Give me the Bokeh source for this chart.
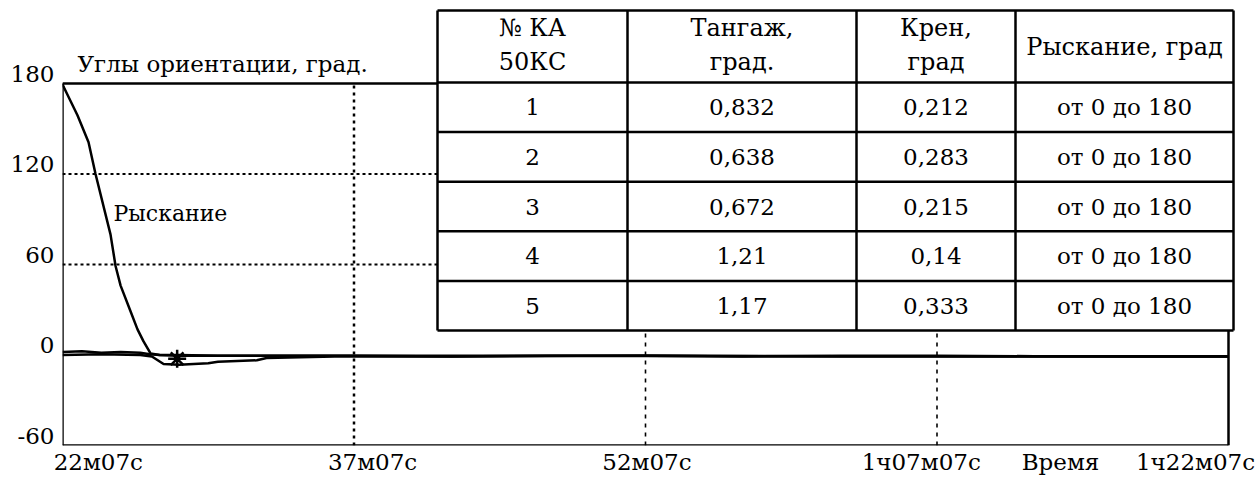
from bokeh.plotting import figure
from bokeh.models import Range1d, LinearAxis, FixedTicker
from bokeh.core.properties import value
from bokeh.embed import file_html
from bokeh.resources import INLINE

FONT = "DejaVu Serif"

# ---------------- data ----------------
# time in minutes from 22m07s
yaw_t = [0, 0.05, 0.77, 1.34, 1.70, 2.47, 2.73, 2.99, 3.50, 3.86, 4.17, 4.53, 5.0, 6.0, 10.0, 20.0, 30.0, 40.0, 50.0, 60.0]
yaw_v = [180, 178, 159, 141, 120, 80, 59, 46, 29, 17, 9, 1, 0, -0.5, -0.5, -0.5, -0.5, -0.8, -0.8, -0.8]

pitch_t = [0, 1, 2, 3, 4, 4.5, 5, 6, 8, 10, 15, 20, 25, 30, 35, 40, 45, 50, 55, 60]
pitch_v = [2, 2.5, 1.5, 2, 1.5, 0.5, 0, 0, -0.5, -0.5, -0.5, -1, -0.5, -0.5, -1, -0.5, -0.5, -0.8, -1, -1]

roll_t = [0, 2, 4, 4.6, 5.2, 6, 7.5, 8.0, 10, 10.5, 14, 20, 30, 40, 50, 60]
roll_v = [0, 0.5, 0, -1, -6, -6.5, -5.5, -4.5, -3.5, -2, -1, -1, -0.5, -1, -1, -1]

marker_t = [5.9]
marker_v = [-2.5]

y_ticks = [-60, 0, 60, 120, 180]
y_tick_labels = ["-60", "0", "60", "120", "180"]
x_ticks = [0, 15, 30, 45, 60]
x_tick_labels = ["22м07с", "37м07с", "52м07с", "1ч07м07с", "1ч22м07с"]
x_axis_name = "Время"

header_line1 = ["№ КА", "Тангаж,", "Крен,", "Рыскание, град"]
header_line2 = ["50КС", "град.", "град", ""]
sat_numbers = ["1", "2", "3", "4", "5"]
pitch_err = ["0,832", "0,638", "0,672", "1,21", "1,17"]
roll_err = ["0,212", "0,283", "0,215", "0,14", "0,333"]
yaw_range = ["от 0 до 180"] * 5

# ---------------- layout (page pixels; Bokeh's page has no margin) ----------------
W, H = 1257, 486
FL, FR, FT, FB = 62, 1236, 8, 445      # frame edges
X0_PX, X60_PX = 62, 1228               # pixel of t=0 and t=60
Y180_PX, YM60_PX = 83, 445             # pixel of 180 and -60
kx = (X60_PX - X0_PX) / 60.0
ky = (YM60_PX - Y180_PX) / 240.0
x_end = (FR - X0_PX) / kx
y_end = -60 + (FB - FT) / ky
LBL_A, LBL_B = 97.8, 18.287            # tick-label centre = LBL_A + LBL_B * t
y_lab_shift = 10 / ky                  # y labels sit ~10 px above their levels

p = figure(width=W, height=H, output_backend="svg", toolbar_location=None,
           x_range=Range1d(0, x_end), y_range=Range1d(-60, y_end),
           x_axis_location=None, y_axis_location=None,
           min_border_left=FL, min_border_right=W - FR,
           min_border_top=FT, min_border_bottom=H - FB)
p.grid.visible = False
p.outline_line_color = None
p.background_fill_color = "white"
p.border_fill_color = "white"

p.extra_x_ranges = {"px": Range1d(FL, FR),
                    "xlab": Range1d((FL - LBL_A) / LBL_B, (FR - LBL_A) / LBL_B)}
p.extra_y_ranges = {"py": Range1d(FB, FT),
                    "ylab": Range1d(-60 - y_lab_shift, y_end - y_lab_shift)}

yax = LinearAxis(y_range_name="ylab", ticker=FixedTicker(ticks=y_ticks))
yax.major_label_overrides = {t: s for t, s in zip(y_ticks, y_tick_labels)}
yax.axis_line_color = None
yax.major_tick_line_color = None
yax.minor_tick_line_color = None
yax.major_tick_out = 0
yax.major_tick_in = 0
yax.major_label_standoff = 8
yax.major_label_text_font = FONT
yax.major_label_text_font_size = "23px"
yax.major_label_text_color = "black"
p.add_layout(yax, "left")

t_name = (1060 - LBL_A) / LBL_B
xax = LinearAxis(x_range_name="xlab", ticker=FixedTicker(ticks=x_ticks + [t_name]))
labels = {t: s for t, s in zip(x_ticks, x_tick_labels)}
labels[t_name] = x_axis_name
xax.major_label_overrides = labels
xax.axis_line_color = None
xax.major_tick_line_color = None
xax.minor_tick_line_color = None
xax.major_tick_out = 0
xax.major_tick_in = 0
xax.major_label_standoff = 3
xax.major_label_text_font = FONT
xax.major_label_text_font_size = "23px"
xax.major_label_text_color = "black"
p.add_layout(xax, "below")

# frame lines
p.segment(x0=[0, 0, 0, 60], y0=[-60, -60, 180, -60], x1=[0, 60, 60, 60], y1=[180, -60, 180, 180],
          line_color="black", line_width=2.5)
# grid lines
p.segment(x0=[0, 0], y0=[120, 60], x1=[60, 60], y1=[120, 60],
          line_color="black", line_width=2, line_dash="3 3")
p.segment(x0=[15], y0=[-60], x1=[15], y1=[180], line_color="black", line_width=2.5, line_dash="3 4")
p.segment(x0=[30, 45], y0=[-60, -60], x1=[30, 45], y1=[180, 180],
          line_color="black", line_width=1.6, line_dash="4 5")

# series
p.line(pitch_t, pitch_v, line_color="black", line_width=2.5)
p.line(roll_t, roll_v, line_color="black", line_width=2.5)
p.line(yaw_t, yaw_v, line_color="black", line_width=2.5)
p.scatter(marker_t, marker_v, marker="asterisk", size=18, line_color="black", line_width=2.5)

# texts in the plot
p.text(x=[77], y=[63], text=["Углы ориентации, град."], x_range_name="px", y_range_name="py",
       text_font=value(FONT), text_font_size=value("23px"), text_align="left",
       text_baseline="middle", text_color="black")
p.text(x=[113], y=[213], text=["Рыскание"], x_range_name="px", y_range_name="py",
       text_font=value(FONT), text_font_size=value("22px"), text_align="left",
       text_baseline="middle", text_color="black")

# ---------------- table ----------------
col_x = [437, 627, 856, 1015, 1233]
t_top, h_bot, t_bot = 10, 82, 330
row_y = [t_top, h_bot] + [h_bot + i * (t_bot - h_bot) / 5 for i in range(1, 6)]

p.quad(left=[col_x[0]], right=[col_x[-1]], top=[t_top], bottom=[t_bot],
       x_range_name="px", y_range_name="py", fill_color="white", line_color=None)
p.segment(x0=[col_x[0]] * len(row_y), x1=[col_x[-1]] * len(row_y), y0=row_y, y1=row_y,
          x_range_name="px", y_range_name="py", line_color="black", line_width=2.5)
p.segment(x0=col_x, x1=col_x, y0=[t_top] * len(col_x), y1=[t_bot] * len(col_x),
          x_range_name="px", y_range_name="py", line_color="black", line_width=2.5)

cx = [(col_x[i] + col_x[i + 1]) / 2 for i in range(4)]
hx, hy, ht = [], [], []
for i in range(4):
    if header_line2[i]:
        hx += [cx[i], cx[i]]
        hy += [27, 61]
        ht += [header_line1[i], header_line2[i]]
    else:
        hx.append(cx[i]); hy.append((t_top + h_bot) / 2); ht.append(header_line1[i])
p.text(x=hx, y=hy, text=ht, x_range_name="px", y_range_name="py",
       text_font=value(FONT), text_font_size=value("24px"), text_align="center",
       text_baseline="middle", text_color="black")
bx, by, bt = [], [], []
for r in range(5):
    yc = (row_y[r + 1] + row_y[r + 2]) / 2
    for c, col in enumerate([sat_numbers, pitch_err, roll_err, yaw_range]):
        bx.append(cx[c]); by.append(yc); bt.append(col[r])
p.text(x=bx, y=by, text=bt, x_range_name="px", y_range_name="py",
       text_font=value(FONT), text_font_size=value("23px"), text_align="center",
       text_baseline="middle", text_color="black")

open("out.html", "w").write(file_html(p, INLINE))
